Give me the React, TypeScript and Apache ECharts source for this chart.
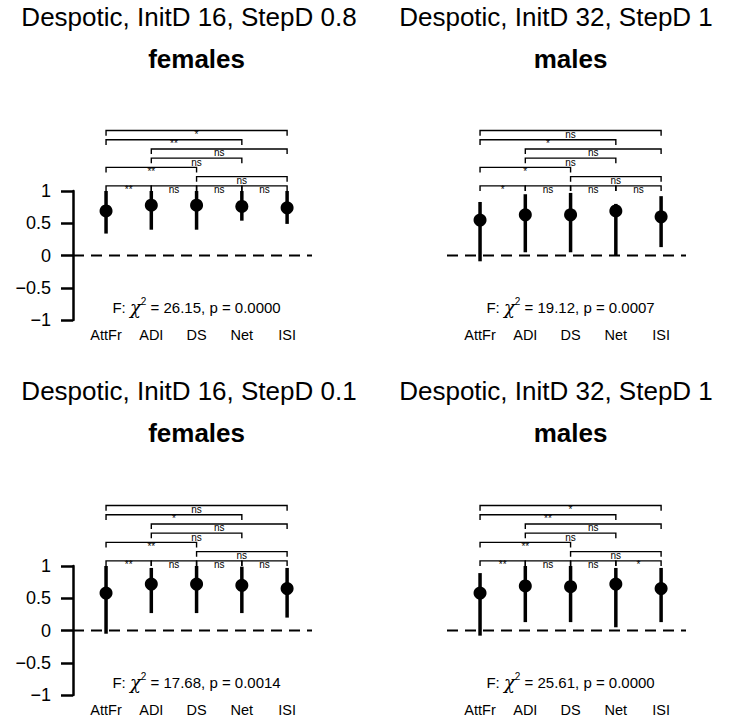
import React, { useEffect, useRef } from "react";
import * as echarts from "echarts";

// ---------- data ----------
const categories = ["AttFr", "ADI", "DS", "Net", "ISI"];
const yTicks = [-1, -0.5, 0, 0.5, 1];

const mainTitles = [
  "Despotic, InitD 16, StepD 0.8",
  "Despotic, InitD 32, StepD 1",
  "Despotic, InitD 16, StepD 0.1",
  "Despotic, InitD 32, StepD 1",
];
const subTitles = ["females", "males", "females", "males"];
const chiValues = ["26.15", "19.12", "17.68", "25.61"];
const pValues = ["0.0000", "0.0007", "0.0014", "0.0000"];

// means, lower and upper ends of the bars, per panel
const meanTL = [0.69, 0.78, 0.78, 0.76, 0.74];
const loTL = [0.34, 0.4, 0.4, 0.54, 0.49];
const hiTL = [1.0, 1.0, 1.0, 1.0, 1.0];

const meanTR = [0.55, 0.63, 0.63, 0.69, 0.6];
const loTR = [-0.09, 0.05, 0.05, 0.0, 0.13];
const hiTR = [0.83, 0.95, 0.97, 0.8, 0.92];

const meanBL = [0.58, 0.72, 0.72, 0.7, 0.65];
const loBL = [-0.05, 0.27, 0.27, 0.27, 0.2];
const hiBL = [1.0, 0.97, 1.0, 0.99, 0.97];

const meanBR = [0.58, 0.69, 0.68, 0.72, 0.65];
const loBR = [-0.08, 0.13, 0.13, 0.05, 0.13];
const hiBR = [0.89, 1.0, 1.0, 0.97, 0.97];

// pairwise comparisons (category positions 1..5) and their bracket level
const pairs = [
  [1, 2], [2, 3], [3, 4], [4, 5],
  [3, 5], [1, 3], [2, 4], [2, 5], [1, 4], [1, 5],
];
const pairLevel = [0, 0, 0, 0, 1, 2, 3, 4, 5, 6];

const sigTL = ["**", "ns", "ns", "ns", "ns", "**", "ns", "ns", "**", "*"];
const sigTR = ["*", "ns", "ns", "ns", "ns", "*", "ns", "ns", "*", "ns"];
const sigBL = ["**", "ns", "ns", "ns", "ns", "**", "ns", "ns", "*", "ns"];
const sigBR = ["**", "ns", "ns", "*", "ns", "**", "ns", "ns", "**", "*"];

const panelMeans = [meanTL, meanTR, meanBL, meanBR];
const panelLo = [loTL, loTR, loBL, loBR];
const panelHi = [hiTL, hiTR, hiBL, hiBR];
const panelSig = [sigTL, sigTR, sigBL, sigBR];

// ---------- layout ----------
const FONT = "'Liberation Sans', Arial, Helvetica, sans-serif";
const X_MIN = 0.27;
const X_MAX = 5.55;
const gridLeft = [73, 447, 73, 447];
const gridTop = [191, 191, 566, 566];
const titleX = [189, 556, 189, 556];
const GRID_W = 239;
const GRID_H = 129;
const LEVEL0 = 1.08;
const LEVEL_STEP = 0.143;
const TICK_DROP = 0.08;

function fmtY(v: number) {
  if (v < 0) return "\u2212" + String(Math.abs(v));
  return String(v);
}

export default function App() {
  const ref = useRef<HTMLDivElement | null>(null);

  useEffect(() => {
    if (!ref.current) return;
    const chart = echarts.init(ref.current, null, { renderer: "svg" });

    const grids: any[] = [];
    const xAxes: any[] = [];
    const yAxes: any[] = [];
    const series: any[] = [];
    const graphics: any[] = [];

    for (let i = 0; i < 4; i++) {
      const showY = i % 2 === 0;
      grids.push({
        left: gridLeft[i],
        top: gridTop[i],
        width: GRID_W,
        height: GRID_H,
        containLabel: false,
      });
      xAxes.push({
        type: "value",
        gridIndex: i,
        min: X_MIN,
        max: X_MAX,
        axisLine: { show: false },
        axisTick: { show: false },
        splitLine: { show: false },
        axisLabel: {
          show: true,
          customValues: [1, 2, 3, 4, 5],
          formatter: (v: number) => categories[Math.round(v) - 1] ?? "",
          color: "#000",
          fontFamily: FONT,
          fontSize: 14.5,
          margin: 7,
        },
      });
      yAxes.push({
        type: "value",
        gridIndex: i,
        min: -1,
        max: 1,
        interval: 0.5,
        show: showY,
        axisLine: { show: showY, lineStyle: { color: "#000", width: 2.5 } },
        axisTick: {
          show: showY,
          length: 12,
          lineStyle: { color: "#000", width: 2.5 },
        },
        splitLine: { show: false },
        axisLabel: {
          show: showY,
          formatter: (v: number) => fmtY(v),
          color: "#000",
          fontFamily: FONT,
          fontSize: 18,
          margin: 22,
        },
      });

      // dashed zero line
      series.push({
        type: "line",
        xAxisIndex: i,
        yAxisIndex: i,
        data: [
          [X_MIN, 0],
          [X_MAX, 0],
        ],
        symbol: "none",
        silent: true,
        lineStyle: { color: "#000", width: 2, type: [11, 7] },
        clip: false,
        z: 1,
      });

      // error bars
      const lo = panelLo[i];
      const hi = panelHi[i];
      series.push({
        type: "custom",
        xAxisIndex: i,
        yAxisIndex: i,
        clip: false,
        silent: true,
        data: categories.map((_, j) => [j + 1, lo[j], hi[j]]),
        renderItem: (params: any, api: any) => {
          const x = api.value(0);
          const p1 = api.coord([x, api.value(1)]);
          const p2 = api.coord([x, api.value(2)]);
          return {
            type: "line",
            shape: { x1: p1[0], y1: p1[1], x2: p2[0], y2: p2[1] },
            style: { stroke: "#000", lineWidth: 3.5 },
          };
        },
        z: 2,
      });

      // means
      const means = panelMeans[i];
      series.push({
        type: "scatter",
        xAxisIndex: i,
        yAxisIndex: i,
        symbol: "circle",
        symbolSize: 13,
        silent: true,
        itemStyle: { color: "#000", opacity: 1 },
        data: categories.map((_, j) => [j + 1, means[j]]),
        z: 3,
      });

      // brackets of pairwise tests
      const sig = panelSig[i];
      series.push({
        type: "custom",
        xAxisIndex: i,
        yAxisIndex: i,
        clip: false,
        silent: true,
        data: pairs.map((p, k) => [
          p[0],
          p[1],
          LEVEL0 + pairLevel[k] * LEVEL_STEP,
        ]),
        renderItem: (params: any, api: any) => {
          const a = api.value(0);
          const b = api.value(1);
          const y = api.value(2);
          const pa = api.coord([a, y]);
          const pb = api.coord([b, y]);
          const pad = api.coord([a, y - TICK_DROP]);
          const pbd = api.coord([b, y - TICK_DROP]);
          const label = sig[params.dataIndex];
          return {
            type: "group",
            children: [
              {
                type: "polyline",
                shape: {
                  points: [
                    [pad[0], pad[1]],
                    [pa[0], pa[1]],
                    [pb[0], pb[1]],
                    [pbd[0], pbd[1]],
                  ],
                },
                style: { stroke: "#000", lineWidth: 1.4, fill: null },
              },
              {
                type: "text",
                x: (pa[0] + pb[0]) / 2,
                y: pa[1] - 1,
                style: {
                  text: label,
                  fill: "#000",
                  font: `10px ${FONT}`,
                  align: "center",
                  verticalAlign: "top",
                  textAlign: "center",
                  textVerticalAlign: "top",
                },
              },
            ],
          };
        },
        z: 4,
      });

      // chi-square text
      series.push({
        type: "scatter",
        xAxisIndex: i,
        yAxisIndex: i,
        symbolSize: 0,
        silent: true,
        itemStyle: { opacity: 1, color: "#000" },
        data: [[3, -0.81]],
        label: {
          show: true,
          position: "inside",
          color: "#000",
          opacity: 1,
          formatter: () =>
            `{t|F: }{chi|\u03c7}{sup|2}{t| = ${chiValues[i]}, p = ${pValues[i]}}`,
          rich: {
            t: {
              fontSize: 15,
              fontFamily: FONT,
              color: "#000",
              lineHeight: 22,
              verticalAlign: "middle",
            },
            chi: {
              fontSize: 18,
              fontFamily: "'DejaVu Serif', serif",
              fontStyle: "italic",
              color: "#000",
              lineHeight: 22,
              verticalAlign: "middle",
            },
            sup: {
              fontSize: 10,
              fontFamily: FONT,
              color: "#000",
              lineHeight: 22,
              verticalAlign: "top",
            },
          },
        },
        z: 5,
      });

      // titles
      const subX = gridLeft[i] + ((3 - X_MIN) / (X_MAX - X_MIN)) * GRID_W;
      const baseY = i < 2 ? 0 : 374;
      graphics.push({
        type: "text",
        x: titleX[i],
        y: baseY + 17,
        style: {
          text: mainTitles[i],
          fill: "#000",
          font: `26px ${FONT}`,
          textAlign: "center",
          textVerticalAlign: "middle",
          align: "center",
          verticalAlign: "middle",
        },
      });
      graphics.push({
        type: "text",
        x: subX,
        y: baseY + 59,
        style: {
          text: subTitles[i],
          fill: "#000",
          font: `bold 26px ${FONT}`,
          textAlign: "center",
          textVerticalAlign: "middle",
          align: "center",
          verticalAlign: "middle",
        },
      });
    }

    chart.setOption({
      animation: false,
      backgroundColor: "#fff",
      grid: grids,
      xAxis: xAxes,
      yAxis: yAxes,
      series,
      graphic: { elements: graphics },
    });

    return () => {
      chart.dispose();
    };
  }, []);

  return (
    <div
      ref={ref}
      style={{
        position: "fixed",
        left: 0,
        top: 0,
        width: 747,
        height: 720,
        background: "#fff",
      }}
    />
  );
}
